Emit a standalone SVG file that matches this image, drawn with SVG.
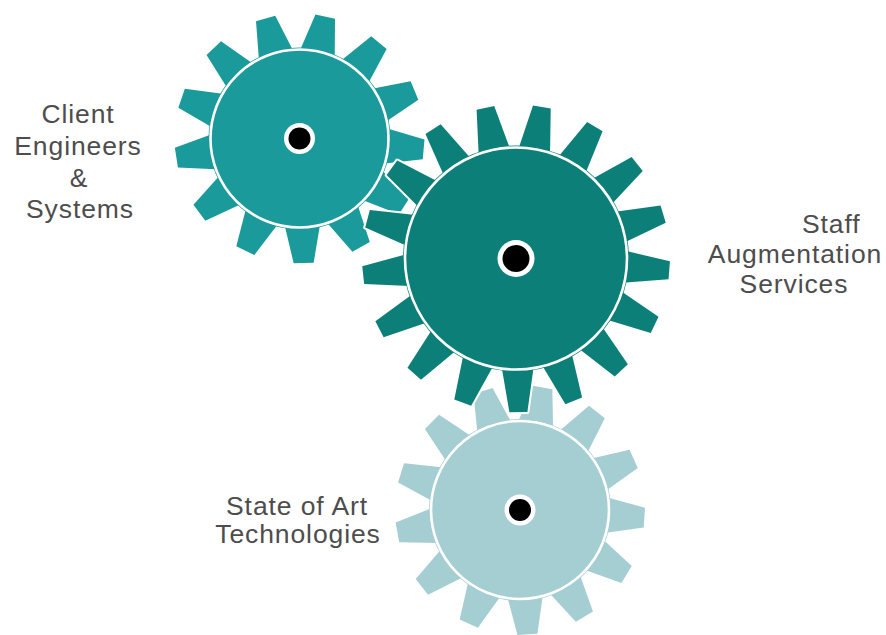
<svg xmlns="http://www.w3.org/2000/svg" xmlns:xlink="http://www.w3.org/1999/xlink" width="886" height="635" viewBox="0 0 886 635">
<style>
.halo{fill:#fff;stroke:#fff;stroke-width:4;stroke-linejoin:round}
.ring{fill:none;stroke:#fff;stroke-width:2.6}
.hubw{fill:#fff}
.hubb{fill:#000}
.lbl{font-family:"Liberation Sans",Arial,sans-serif;font-size:26.5px;fill:#4d4d4d;letter-spacing:0.9px}
.mid{text-anchor:middle}
</style>
<defs>
<polygon id="ts" points="87.5,-17.5 124.6,-10 124.6,10 87.5,17.5"/>
<polygon id="tb" points="108.5,-16 153.7,-9 153.7,9 108.5,16"/>
<g id="teethS">
<use href="#ts"/>
<use href="#ts" transform="rotate(27.69)"/>
<use href="#ts" transform="rotate(55.38)"/>
<use href="#ts" transform="rotate(83.08)"/>
<use href="#ts" transform="rotate(110.77)"/>
<use href="#ts" transform="rotate(138.46)"/>
<use href="#ts" transform="rotate(166.15)"/>
<use href="#ts" transform="rotate(193.85)"/>
<use href="#ts" transform="rotate(221.54)"/>
<use href="#ts" transform="rotate(249.23)"/>
<use href="#ts" transform="rotate(276.92)"/>
<use href="#ts" transform="rotate(304.62)"/>
<use href="#ts" transform="rotate(332.31)"/>
</g>
<g id="teethB">
<use href="#tb"/>
<use href="#tb" transform="rotate(21.18)"/>
<use href="#tb" transform="rotate(42.35)"/>
<use href="#tb" transform="rotate(63.53)"/>
<use href="#tb" transform="rotate(84.71)"/>
<use href="#tb" transform="rotate(105.88)"/>
<use href="#tb" transform="rotate(127.06)"/>
<use href="#tb" transform="rotate(148.24)"/>
<use href="#tb" transform="rotate(169.41)"/>
<use href="#tb" transform="rotate(190.59)"/>
<use href="#tb" transform="rotate(211.76)"/>
<use href="#tb" transform="rotate(232.94)"/>
<use href="#tb" transform="rotate(254.12)"/>
<use href="#tb" transform="rotate(275.29)"/>
<use href="#tb" transform="rotate(296.47)"/>
<use href="#tb" transform="rotate(317.65)"/>
<use href="#tb" transform="rotate(338.82)"/>
</g>
</defs>
<rect width="886" height="635" fill="#fff"/>

<g id="node-client">
<g transform="translate(299.5,138.5)">
<g class="halo"><use href="#teethS" transform="rotate(5)"/><circle r="91"/></g>
<g fill="#1A9A9B"><use href="#teethS" transform="rotate(5)"/><circle r="91"/></g>
<circle class="ring" r="89"/>
<circle class="hubw" r="15.5"/>
<circle class="hubb" r="11"/>
</g>
<text class="lbl mid" x="78" y="123">Client</text>
<text class="lbl mid" x="78" y="155">Engineers</text>
<text class="lbl mid" x="79" y="187">&amp;</text>
<text class="lbl mid" x="80" y="218">Systems</text>
</g>

<g id="node-tech">
<g transform="translate(520,510)">
<g class="halo"><use href="#teethS" transform="rotate(3.5)"/><circle r="91"/></g>
<g fill="#A4CED2"><use href="#teethS" transform="rotate(3.5)"/><circle r="91"/></g>
<circle class="ring" r="89"/>
<circle class="hubw" r="15.5"/>
<circle class="hubb" r="11"/>
</g>
<text class="lbl mid" x="297" y="515">State of Art</text>
<text class="lbl mid" x="298" y="543">Technologies</text>
</g>

<g id="node-staff">
<g transform="translate(516,258.5)">
<g class="halo"><use href="#teethB" transform="rotate(4.4)"/><circle r="113"/></g>
<g fill="#0D7F79"><use href="#teethB" transform="rotate(4.4)"/><circle r="113"/></g>
<circle class="ring" r="111" stroke-width="3"/>
<circle class="hubw" r="18.5"/>
<circle class="hubb" r="13.5"/>
</g>
<text class="lbl" x="802" y="233">Staff</text>
<text class="lbl mid" x="795" y="263">Augmentation</text>
<text class="lbl mid" x="794" y="293">Services</text>
</g>

<g id="connectors"/>
</svg>
